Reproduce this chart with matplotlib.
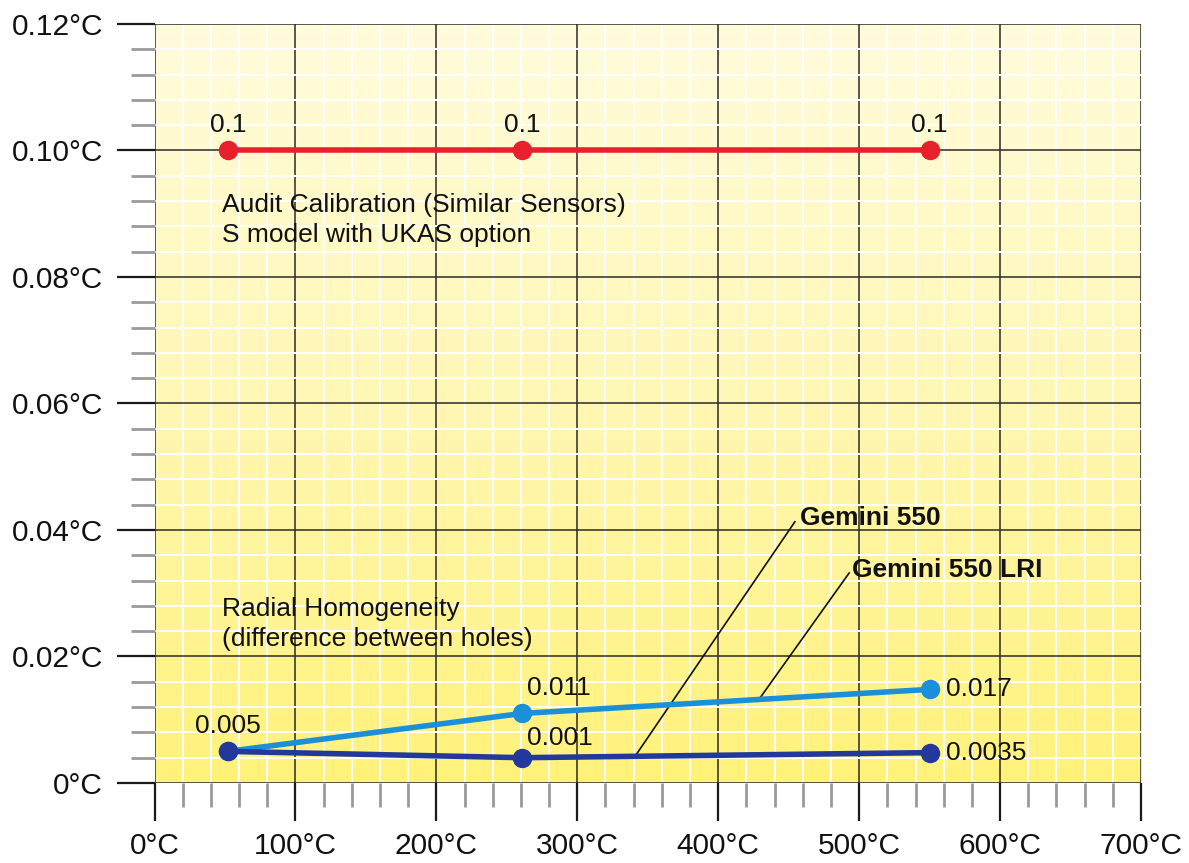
import numpy
from matplotlib import pyplot
from matplotlib.colors import LinearSegmentedColormap

# data
temps = [52, 261, 550]
audit = [0.100, 0.100, 0.100]
audit_labels = ['0.1', '0.1', '0.1']
lri = [0.0050, 0.0110, 0.0148]
lri_labels = ['0.005', '0.011', '0.017']
gemini = [0.0050, 0.0040, 0.0048]
gemini_labels = ['', '0.001', '0.0035']
x_ticks = [0, 100, 200, 300, 400, 500, 600, 700]
y_ticks = [0.0, 0.02, 0.04, 0.06, 0.08, 0.10, 0.12]

pyplot.rcParams['font.family'] = ['Liberation Sans', 'DejaVu Sans']

fig = pyplot.figure(figsize=(11.89, 8.63), dpi=100)
ax = fig.add_axes([0.13, 0.0927, 0.8296, 0.8795])
ax.set_xlim(0, 700)
ax.set_ylim(0, 0.12)

# yellow gradient background
cmap = LinearSegmentedColormap.from_list('paper', ['#fff27a', '#fff7b4', '#fffcdc'])
grad = numpy.linspace(0, 1, 256).reshape(-1, 1)
ax.imshow(grad, cmap=cmap, origin='lower', aspect='auto',
          extent=(0, 700, 0, 0.12), zorder=0)

for side in ['left', 'right', 'top', 'bottom']:
  ax.spines[side].set_visible(False)

ax.set_xticks(x_ticks)
ax.set_xticklabels(['{}°C'.format(t) for t in x_ticks])
ax.set_yticks(y_ticks)
ax.set_yticklabels(['0°C'] + ['{:.2f}°C'.format(v) for v in y_ticks[1:]])
ax.set_xticks(numpy.arange(0, 701, 20), minor=True)
ax.set_yticks(numpy.arange(0, 0.1201, 0.004), minor=True)
ax.tick_params(which='major', length=27.5, width=1.6, color='#1a1a1a',
               labelsize=21.5, labelcolor='#111111')
ax.tick_params(axis='y', which='major', pad=9.5)
ax.tick_params(axis='x', which='major', pad=7.5)
ax.tick_params(which='minor', length=17, width=2.0, color='#9a9a9a')

ax.grid(True, which='minor', color='white', linewidth=1.4, zorder=0.4)
ax.grid(True, which='major', color='#2a2a2a', linewidth=1.1, zorder=0.6)
ax.set_axisbelow(True)

kwargs_line = {'linewidth': 4.0, 'marker': 'o', 'markersize': 13,
               'solid_capstyle': 'round', 'zorder': 5, 'clip_on': False}
ax.plot(temps, audit, color='#e8202b', **kwargs_line)
ax.plot(temps, lri, color='#1b8fd8', **kwargs_line)
ax.plot(temps, gemini, color='#22399b', **kwargs_line)

text_kw = {'fontsize': 19, 'color': '#111111', 'zorder': 6}
for t, v, s in zip(temps, audit, audit_labels):
  ax.annotate(s, (t, v), xytext=(0, 13.5), textcoords='offset points',
              ha='center', va='baseline', **text_kw)
ax.annotate(lri_labels[0], (temps[0], lri[0]), xytext=(0, 13.5),
            textcoords='offset points', ha='center', va='baseline', **text_kw)
ax.annotate(lri_labels[1], (temps[1], lri[1]), xytext=(3, 13),
            textcoords='offset points', ha='left', va='baseline', **text_kw)
ax.annotate(gemini_labels[1], (temps[1], gemini[1]), xytext=(3, 9.5),
            textcoords='offset points', ha='left', va='baseline', **text_kw)
ax.annotate(lri_labels[2], (temps[2], lri[2]), xytext=(12, 0),
            textcoords='offset points', ha='left', va='center', **text_kw)
ax.annotate(gemini_labels[2], (temps[2], gemini[2]), xytext=(12, 0),
            textcoords='offset points', ha='left', va='center', **text_kw)

ax.text(48, 0.0903, 'Audit Calibration (Similar Sensors)',
        ha='left', va='baseline', **text_kw)
ax.text(48, 0.0856, 'S model with UKAS option',
        ha='left', va='baseline', **text_kw)
ax.text(48, 0.0264, 'Radial Homogeneity',
        ha='left', va='baseline', **text_kw)
ax.text(48, 0.0217, '(difference between holes)',
        ha='left', va='baseline', **text_kw)

# leader lines to the series names
ax.plot([340.6, 454.4], [0.0041, 0.0413], color='#111111', linewidth=1.2, zorder=4)
ax.plot([429.5, 492.9], [0.0134, 0.0332], color='#111111', linewidth=1.2, zorder=4)
ax.text(458, 0.0408, 'Gemini 550', ha='left', va='baseline',
        fontweight='bold', **text_kw)
ax.text(495, 0.0326, 'Gemini 550 LRI', ha='left', va='baseline',
        fontweight='bold', **text_kw)

fig.savefig('out.png', dpi=100)
